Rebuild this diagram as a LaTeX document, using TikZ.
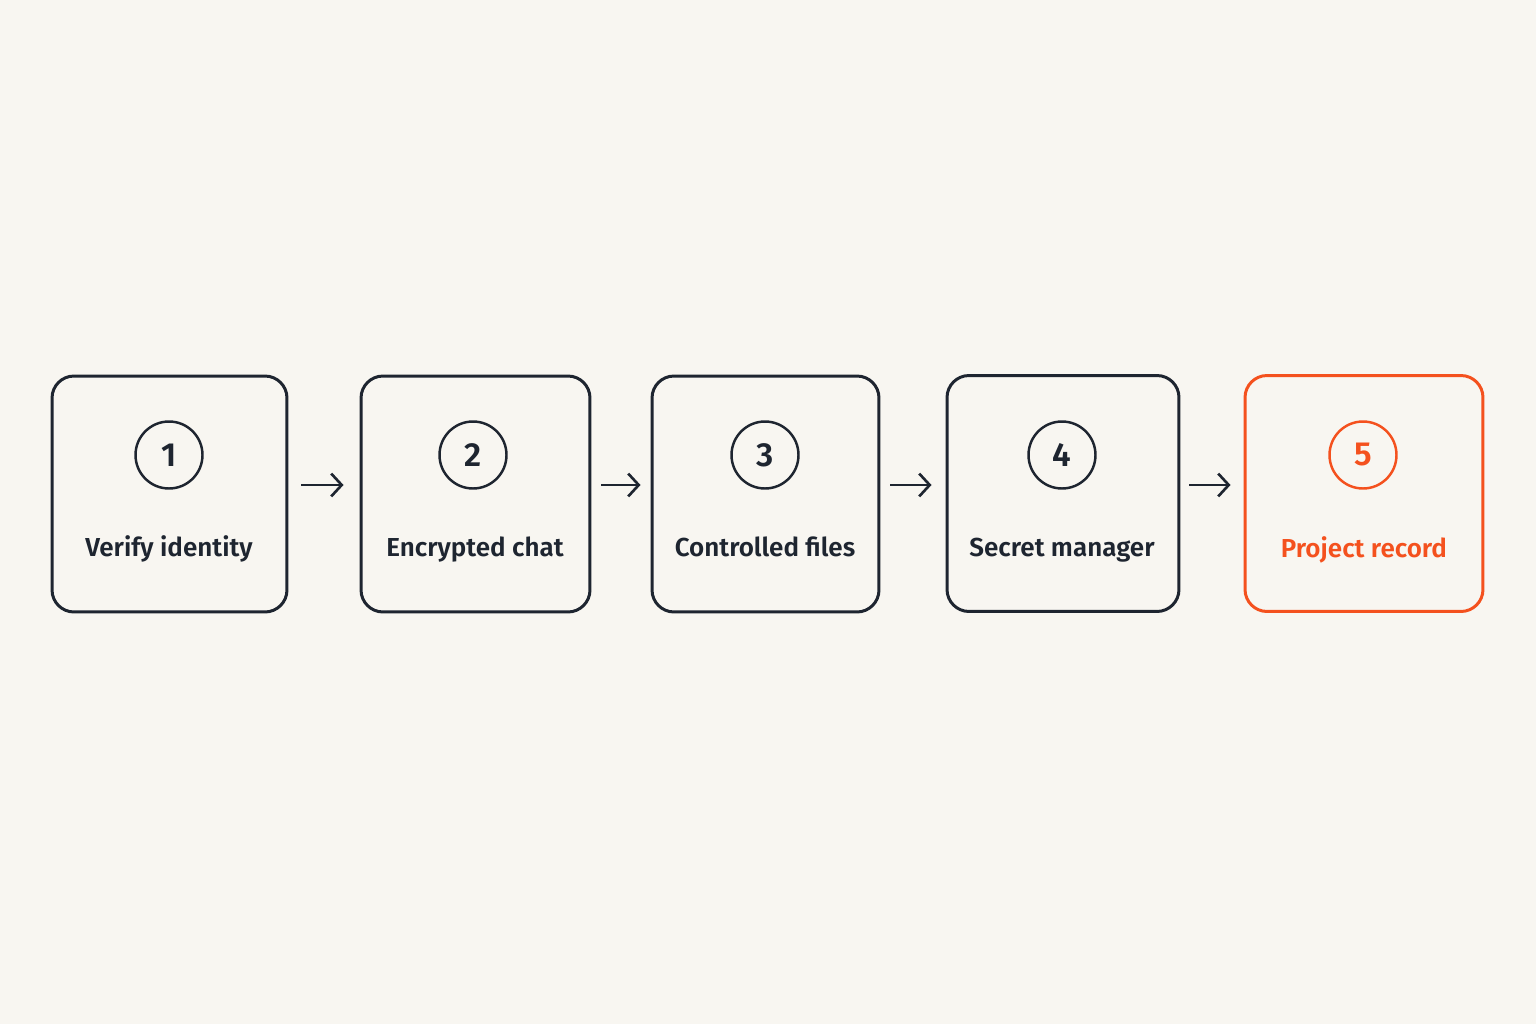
\documentclass[tikz,border=0pt]{standalone}
\usepackage{fontspec}
\setmainfont{Fira Sans}[UprightFont=* SemiBold]
\usetikzlibrary{arrows.meta}
\definecolor{ink}{HTML}{1E2530}
\definecolor{flame}{HTML}{F4511E}
\definecolor{paper}{HTML}{F8F6F1}
\tikzset{
  stepbox/.style={draw=ink, line width=1.7pt, rounded corners=0.44cm, minimum height=4.72cm},
  numdisc/.style={draw=ink, circle, line width=1.4pt, minimum size=1.34cm, inner sep=0pt, text=ink, font=\fontsize{19}{20}\selectfont},
  steptext/.style={anchor=base, text=ink, font=\fontsize{14.8}{17}\selectfont},
  flow/.style={draw=ink, line width=1.5pt, -{Straight Barb[length=6pt,width=13pt,line width=1.5pt]}}
}
\begin{document}
\begin{tikzpicture}[x=0.02cm, y=-0.02cm]
		%%%%% START %%%%%
		
		\fill[paper] (0, 0) rectangle (1536, 1024);
		\useasboundingbox (0, 0) rectangle (1536, 1024);
		
		\node[stepbox, minimum width=4.7cm] (box1) at (169.5, 494) {};
		\node[stepbox, minimum width=4.58cm] (box2) at (475.5, 494) {};
		\node[stepbox, minimum width=4.54cm] (box3) at (765.5, 494) {};
		\node[stepbox, minimum width=4.64cm] (box4) at (1063, 493.5) {};
		\node[stepbox, draw=flame, minimum width=4.76cm] (box5) at (1364, 493.5) {};
		
		\node[numdisc] (num1) at (169, 455) {1};
		\node[numdisc] (num2) at (473, 455) {2};
		\node[numdisc] (num3) at (765, 455) {3};
		\node[numdisc] (num4) at (1062, 455) {4};
		\node[numdisc, draw=flame, text=flame] (num5) at (1363, 455) {5};
		
		\node[steptext] (lab1) at (169, 556) {Verify identity};
		\node[steptext] (lab2) at (475, 556) {Encrypted chat};
		\node[steptext] (lab3) at (765, 556) {Controlled files};
		\node[steptext] (lab4) at (1062, 556) {Secret manager};
		\node[steptext, text=flame] (lab5) at (1364, 557) {Project record};
		
		\draw[flow, shorten <=0.26cm, shorten >=0.32cm] (box1.east |- 0, 485) -- (box2.west |- 0, 485);
		\draw[flow, shorten <=0.2cm, shorten >=0.2cm] (box2.east |- 0, 485) -- (box3.west |- 0, 485);
		\draw[flow, shorten <=0.2cm, shorten >=0.28cm] (box3.east |- 0, 485) -- (box4.west |- 0, 485);
		\draw[flow, shorten <=0.18cm, shorten >=0.26cm] (box4.east |- 0, 485) -- (box5.west |- 0, 485);
		
		%%%%% END %%%%%
	\end{tikzpicture}
\end{document}
